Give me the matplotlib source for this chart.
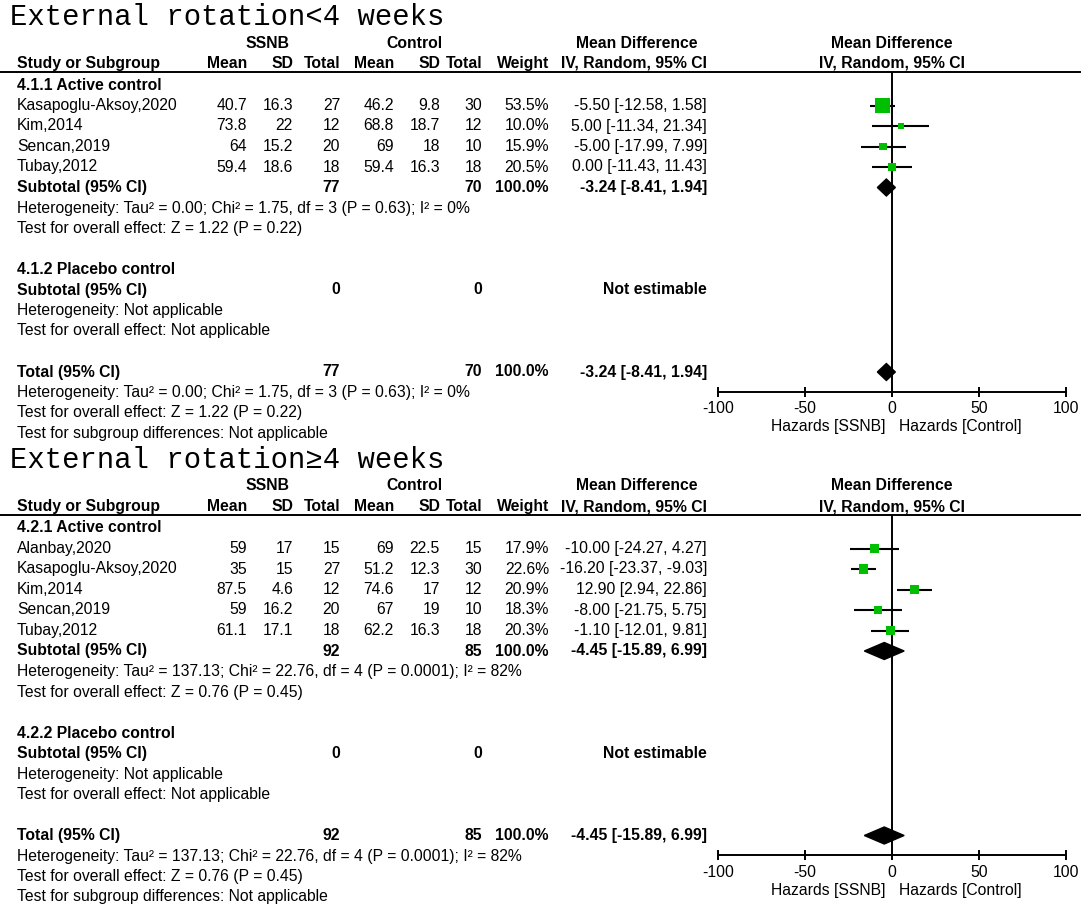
import matplotlib
matplotlib.use('Agg')
from matplotlib import pyplot as plt

W, H = 1084, 909

# ---- panel 1 : External rotation < 4 weeks ----
p1_title = 'External rotation<4 weeks'
p1_study = ['Kasapoglu-Aksoy,2020', 'Kim,2014', 'Sencan,2019', 'Tubay,2012']
p1_ssnb_mean = [40.7, 73.8, 64, 59.4]
p1_ssnb_sd = [16.3, 22, 15.2, 18.6]
p1_ssnb_n = [27, 12, 20, 18]
p1_ctrl_mean = [46.2, 68.8, 69, 59.4]
p1_ctrl_sd = [9.8, 18.7, 18, 16.3]
p1_ctrl_n = [30, 12, 10, 18]
p1_weight = [53.5, 10.0, 15.9, 20.5]
p1_md = [-5.50, 5.00, -5.00, 0.00]
p1_lo = [-12.58, -11.34, -17.99, -11.43]
p1_hi = [1.58, 21.34, 7.99, 11.43]
p1_pooled = [-3.24, -8.41, 1.94]
p1_het = 'Heterogeneity: Tau² = 0.00; Chi² = 1.75, df = 3 (P = 0.63); I² = 0%'
p1_z = 'Test for overall effect: Z = 1.22 (P = 0.22)'

# ---- panel 2 : External rotation >= 4 weeks ----
p2_title = 'External rotation≥4 weeks'
p2_study = ['Alanbay,2020', 'Kasapoglu-Aksoy,2020', 'Kim,2014', 'Sencan,2019', 'Tubay,2012']
p2_ssnb_mean = [59, 35, 87.5, 59, 61.1]
p2_ssnb_sd = [17, 15, 4.6, 16.2, 17.1]
p2_ssnb_n = [15, 27, 12, 20, 18]
p2_ctrl_mean = [69, 51.2, 74.6, 67, 62.2]
p2_ctrl_sd = [22.5, 12.3, 17, 19, 16.3]
p2_ctrl_n = [15, 30, 12, 10, 18]
p2_weight = [17.9, 22.6, 20.9, 18.3, 20.3]
p2_md = [-10.00, -16.20, 12.90, -8.00, -1.10]
p2_lo = [-24.27, -23.37, 2.94, -21.75, -12.01]
p2_hi = [4.27, -9.03, 22.86, 5.75, 9.81]
p2_pooled = [-4.45, -15.89, 6.99]
p2_het = 'Heterogeneity: Tau² = 137.13; Chi² = 22.76, df = 4 (P = 0.0001); I² = 82%'
p2_z = 'Test for overall effect: Z = 0.76 (P = 0.45)'

total_weight = '100.0%'
xticks = [-100, -50, 0, 50, 100]

SANS = ['Liberation Sans', 'DejaVu Sans']
MONO = ['Liberation Mono', 'DejaVu Sans Mono']
GREEN = '#00BE00'
FS = 11.3
PITCH = 20.5

# column positions (pixels)
X_LEFT = 17
X_MEAN1, X_SD1, X_N1 = 247, 293, 340
X_MEAN2, X_SD2, X_N2 = 394, 440, 482
X_WEIGHT, X_CI = 549, 707
X_SSNB, X_CTRL = 268, 414
X_MDCOL, X_MDPLOT = 637, 892
X_M100, X_P100 = 718, 1066

plt.rcParams['font.family'] = SANS
plt.rcParams['axes.unicode_minus'] = False

fig = plt.figure(figsize=(W / 100, H / 100), dpi=100)
bg = fig.add_axes([0, 0, 1, 1])
bg.set_xlim(0, W)
bg.set_ylim(H, 0)
bg.axis('off')


def txt(x, y, s, ha='left', bold=False):
    bg.text(x, y, s, ha=ha, va='center', fontsize=FS,
            fontweight='bold' if bold else 'normal')


def draw_panel(base, title, code, study, m1, s1, n1, m2, s2, n2, wt, md, lo, hi, pooled, het, z):
    row = lambda k: base + PITCH * k
    k_sub = len(study) + 1

    bg.text(10, base - 68, title, family=MONO, fontsize=20.8, va='center', ha='left')
    txt(X_SSNB, base - 42, 'SSNB', 'center', True)
    txt(X_CTRL, base - 42, 'Control', 'center', True)
    txt(X_MDCOL, base - 42, 'Mean Difference', 'center', True)
    txt(X_MDPLOT, base - 42, 'Mean Difference', 'center', True)
    hy = base - 21.5
    txt(X_LEFT, hy, 'Study or Subgroup', bold=True)
    for x, s in [(X_MEAN1, 'Mean'), (X_SD1, 'SD'), (X_N1, 'Total'), (X_MEAN2, 'Mean'),
                 (X_SD2, 'SD'), (X_N2, 'Total'), (X_WEIGHT, 'Weight'), (X_CI, 'IV, Random, 95% CI')]:
        txt(x, hy, s, 'right', True)
    txt(X_MDPLOT, hy, 'IV, Random, 95% CI', 'center', True)
    ul = base - 13
    bg.plot([0, 1080], [ul, ul], color='black', lw=1.4)

    txt(X_LEFT, row(0), code + '.1 Active control', bold=True)
    for i in range(len(study)):
        y = row(i + 1)
        txt(X_LEFT, y, study[i])
        txt(X_MEAN1, y, f'{m1[i]:g}', 'right')
        txt(X_SD1, y, f'{s1[i]:g}', 'right')
        txt(X_N1, y, f'{n1[i]}', 'right')
        txt(X_MEAN2, y, f'{m2[i]:g}', 'right')
        txt(X_SD2, y, f'{s2[i]:g}', 'right')
        txt(X_N2, y, f'{n2[i]}', 'right')
        txt(X_WEIGHT, y, f'{wt[i]:.1f}%', 'right')
        txt(X_CI, y, f'{md[i]:.2f} [{lo[i]:.2f}, {hi[i]:.2f}]', 'right')

    ci_pooled = f'{pooled[0]:.2f} [{pooled[1]:.2f}, {pooled[2]:.2f}]'
    for k, label in [(k_sub, 'Subtotal (95% CI)'), (k_sub + 9, 'Total (95% CI)')]:
        y = row(k)
        txt(X_LEFT, y, label, bold=True)
        txt(X_N1, y, f'{sum(n1)}', 'right', True)
        txt(X_N2, y, f'{sum(n2)}', 'right', True)
        txt(X_WEIGHT, y, total_weight, 'right', True)
        txt(X_CI, y, ci_pooled, 'right', True)
    txt(X_LEFT, row(k_sub + 1), het)
    txt(X_LEFT, row(k_sub + 2), z)

    txt(X_LEFT, row(k_sub + 4), code + '.2 Placebo control', bold=True)
    txt(X_LEFT, row(k_sub + 5), 'Subtotal (95% CI)', bold=True)
    txt(X_N1, row(k_sub + 5), '0', 'right', True)
    txt(X_N2, row(k_sub + 5), '0', 'right', True)
    txt(X_CI, row(k_sub + 5), 'Not estimable', 'right', True)
    txt(X_LEFT, row(k_sub + 6), 'Heterogeneity: Not applicable')
    txt(X_LEFT, row(k_sub + 7), 'Test for overall effect: Not applicable')

    txt(X_LEFT, row(k_sub + 10), het)
    txt(X_LEFT, row(k_sub + 11), z)
    txt(X_LEFT, row(k_sub + 12), 'Test for subgroup differences: Not applicable')

    # forest plot axes, y in pixel rows
    axis_y = row(k_sub + 9) + 19.5
    ax = fig.add_axes([X_M100 / W, 1 - axis_y / H, (X_P100 - X_M100) / W, (axis_y - ul) / H])
    ax.set_xlim(-100, 100)
    ax.set_ylim(axis_y, ul)
    for s in ['top', 'left', 'right']:
        ax.spines[s].set_visible(False)
    ax.spines['bottom'].set_linewidth(1.4)
    ax.patch.set_visible(False)
    ax.set_yticks([])
    ax.set_xticks(xticks)
    ax.tick_params(axis='x', direction='inout', length=7, width=1.4, labelsize=FS, pad=3.5)
    ax.axvline(0, color='black', lw=1.4)

    ys = [row(i + 1) for i in range(len(study))]
    ax.hlines(ys, lo, hi, color='black', lw=1.5)
    sizes = [w * 2.0 for w in wt]
    ax.scatter(md, ys, marker='s', s=sizes, color=GREEN, zorder=3, linewidths=0)
    for k in [k_sub, k_sub + 9]:
        yc = row(k)
        ax.fill([pooled[1], pooled[0], pooled[2], pooled[0]],
                [yc, yc - 8.5, yc, yc + 8.5], color='black', zorder=3)

    ax.text(-4, axis_y + 35.5, 'Hazards [SSNB]', ha='right', va='center', fontsize=FS)
    ax.text(4, axis_y + 35.5, 'Hazards [Control]', ha='left', va='center', fontsize=FS)


draw_panel(85, p1_title, '4.1', p1_study, p1_ssnb_mean, p1_ssnb_sd, p1_ssnb_n,
           p1_ctrl_mean, p1_ctrl_sd, p1_ctrl_n, p1_weight, p1_md, p1_lo, p1_hi,
           p1_pooled, p1_het, p1_z)
draw_panel(528, p2_title, '4.2', p2_study, p2_ssnb_mean, p2_ssnb_sd, p2_ssnb_n,
           p2_ctrl_mean, p2_ctrl_sd, p2_ctrl_n, p2_weight, p2_md, p2_lo, p2_hi,
           p2_pooled, p2_het, p2_z)

fig.savefig('out.png', dpi=100)
